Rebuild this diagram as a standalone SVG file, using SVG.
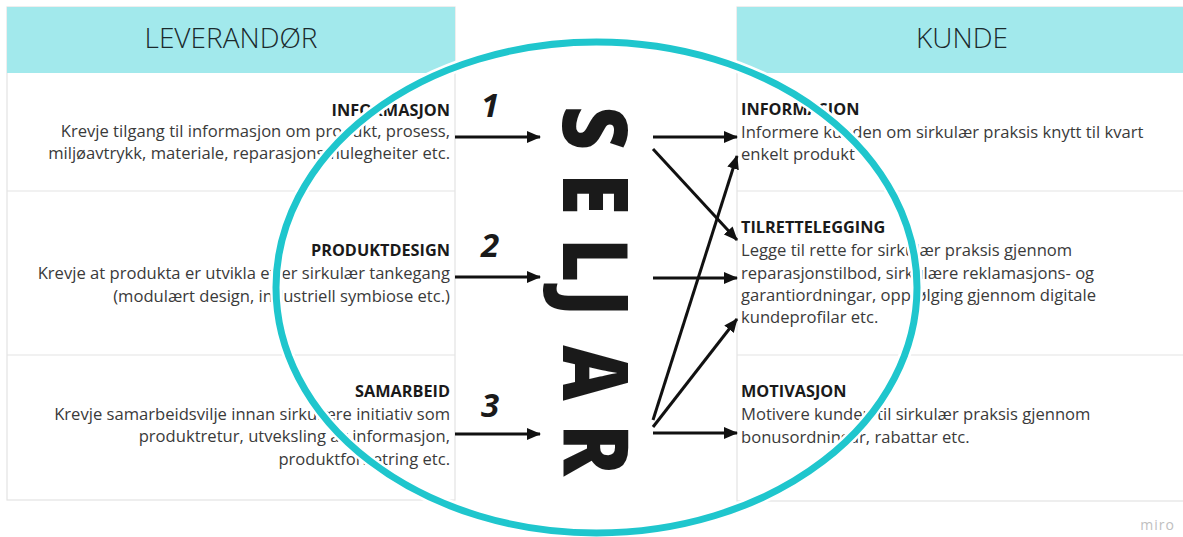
<svg xmlns="http://www.w3.org/2000/svg" width="1183" height="537" viewBox="0 0 1183 537">
  <defs>
    <marker id="ah" viewBox="0 0 14 12" refX="13" refY="6" markerWidth="14" markerHeight="12" markerUnits="userSpaceOnUse" orient="auto">
      <path d="M0,0 L14,6 L0,12 Z" fill="#111"/>
    </marker>
    <style>
      .box { fill: #ffffff; stroke: #e3e3e3; stroke-width: 1.2; }
      .hdr { fill: #a2e9ec; }
      .hdrtxt { font-family: "Open Sans", "Liberation Sans", sans-serif; font-weight: 300; font-size: 28px; fill: #1b2a2c; text-anchor: middle; }
      .h { font-family: "Open Sans", "Liberation Sans", sans-serif; font-weight: 700; font-size: 16.3px; fill: #1a1a1a; }
      .t { font-family: "Open Sans", "Liberation Sans", sans-serif; font-weight: 400; font-size: 16.6px; fill: #3a3a3a; }
      .r { text-anchor: end; }
      .num { font-family: "Open Sans", "Liberation Sans", sans-serif; font-weight: 700; font-style: italic; font-size: 33px; fill: #1a1a1a; text-anchor: middle; }
      .arr { stroke: #111; stroke-width: 3; fill: none; marker-end: url(#ah); }
      .big { font-family: "Open Sans", "Liberation Sans", sans-serif; font-weight: 800; font-size: 90px; fill: #1a1a1a; text-anchor: middle; }
    </style>
  </defs>

  <rect width="1183" height="537" fill="#ffffff"/>

  <!-- Left table -->
  <g id="leverandor">
    <rect class="box" x="7" y="7" width="448" height="493"/>
    <rect class="hdr" x="7" y="7" width="448" height="66"/>
    <text class="hdrtxt" x="231" y="48">LEVERANDØR</text>
  </g>
  <g id="lev-informasjon">
    <line x1="7" y1="191" x2="455" y2="191" stroke="#e3e3e3" stroke-width="1.2"/>
    <text class="h r" x="450" y="116">INFORMASJON</text>
    <text class="t r" x="450" y="137">Krevje tilgang til informasjon om produkt, prosess,</text>
    <text class="t r" x="450" y="159">miljøavtrykk, materiale, reparasjonsmulegheiter etc.</text>
  </g>
  <g id="lev-produktdesign">
    <line x1="7" y1="355" x2="455" y2="355" stroke="#e3e3e3" stroke-width="1.2"/>
    <text class="h r" x="450" y="256">PRODUKTDESIGN</text>
    <text class="t r" x="450" y="279">Krevje at produkta er utvikla etter sirkulær tankegang</text>
    <text class="t r" x="450" y="302">(modulært design, industriell symbiose etc.)</text>
  </g>
  <g id="lev-samarbeid">
    <text class="h r" x="450" y="397">SAMARBEID</text>
    <text class="t r" x="450" y="420">Krevje samarbeidsvilje innan sirkulære initiativ som</text>
    <text class="t r" x="450" y="442">produktretur, utveksling av informasjon,</text>
    <text class="t r" x="450" y="465">produktforbetring etc.</text>
  </g>

  <!-- Right table -->
  <g id="kunde">
    <rect class="box" x="737" y="7" width="460" height="494"/>
    <rect class="hdr" x="737" y="7" width="460" height="66"/>
    <text class="hdrtxt" x="962" y="48">KUNDE</text>
  </g>
  <g id="kunde-informasjon">
    <line x1="737" y1="191" x2="1183" y2="191" stroke="#e3e3e3" stroke-width="1.2"/>
    <text class="h" x="741" y="115">INFORMASJON</text>
    <text class="t" x="741" y="138">Informere kunden om sirkulær praksis knytt til kvart</text>
    <text class="t" x="741" y="160">enkelt produkt</text>
  </g>
  <g id="kunde-tilrettelegging">
    <line x1="737" y1="355" x2="1183" y2="355" stroke="#e3e3e3" stroke-width="1.2"/>
    <text class="h" x="741" y="233">TILRETTELEGGING</text>
    <text class="t" x="741" y="256">Legge til rette for sirkulær praksis gjennom</text>
    <text class="t" x="741" y="279">reparasjonstilbod, sirkulære reklamasjons- og</text>
    <text class="t" x="741" y="301">garantiordningar, oppfølging gjennom digitale</text>
    <text class="t" x="741" y="323">kundeprofilar etc.</text>
  </g>
  <g id="kunde-motivasjon">
    <text class="h" x="741" y="397">MOTIVASJON</text>
    <text class="t" x="741" y="420">Motivere kunden til sirkulær praksis gjennom</text>
    <text class="t" x="741" y="443">bonusordningar, rabattar etc.</text>
  </g>

  <!-- Circle -->
  <g id="seljar-ring">
    <ellipse cx="596.5" cy="287.5" rx="320.5" ry="245.5" fill="none" stroke="#ffffff" stroke-width="12"/>
    <ellipse cx="596.5" cy="287.5" rx="320.5" ry="245.5" fill="none" stroke="#1fc6cd" stroke-width="7"/>
  </g>

  <!-- Seller -->
  <g id="seljar">
    <text class="big" transform="translate(563,0) rotate(90) scale(0.85,1)" x="150.6 228.2 305.9 356.5 438.8 529.4" y="0">SELJAR</text>
  </g>

  <!-- Numbers -->
  <g id="numbers">
    <text class="num" x="490" y="117">1</text>
    <text class="num" x="490" y="257">2</text>
    <text class="num" x="490" y="417">3</text>
  </g>

  <!-- Connectors -->
  <g id="connectors">
    <line class="arr" x1="455" y1="137" x2="540" y2="137"/>
    <line class="arr" x1="455" y1="277" x2="540" y2="277"/>
    <line class="arr" x1="455" y1="434" x2="540" y2="434"/>
    <line class="arr" x1="653" y1="137" x2="737" y2="137"/>
    <line class="arr" x1="653" y1="149" x2="737" y2="240"/>
    <line class="arr" x1="653" y1="278" x2="737" y2="278"/>
    <line class="arr" x1="653" y1="420" x2="737" y2="156"/>
    <line class="arr" x1="653" y1="427" x2="737" y2="319"/>
    <line class="arr" x1="653" y1="433" x2="737" y2="433"/>
  </g>

  <text x="1175" y="530" font-family="Open Sans, Liberation Sans, sans-serif" font-size="14" fill="#c0c0c0" text-anchor="end" letter-spacing="1">miro</text>
</svg>
